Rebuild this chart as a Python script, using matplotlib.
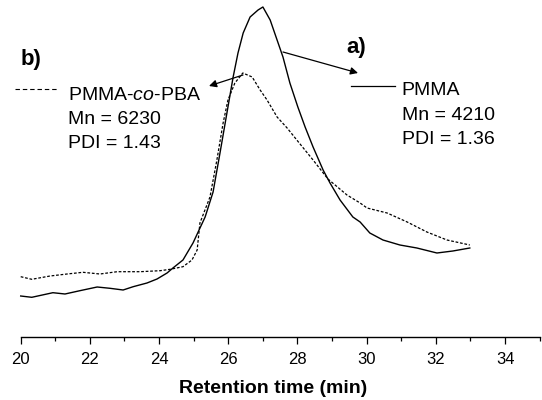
import matplotlib
matplotlib.use("Agg")
import matplotlib.pyplot as plt
from matplotlib.lines import Line2D
from matplotlib.ticker import MultipleLocator

plt.rcParams['font.family'] = ['Liberation Sans', 'DejaVu Sans']
plt.rcParams['mathtext.fontset'] = 'custom'
plt.rcParams['mathtext.rm'] = 'Liberation Sans'
plt.rcParams['mathtext.it'] = 'Liberation Sans:italic'

# ---- data (retention time in min, detector signal in arbitrary units) ----
pmma_t = [20.00, 20.32, 20.93, 21.28, 21.71, 22.21, 22.58, 22.96, 23.25, 23.65,
          23.94, 24.23, 24.40, 24.69, 24.98, 25.33, 25.56, 25.76, 25.90, 25.99,
          26.14, 26.28, 26.43, 26.63, 26.86, 27.00, 27.21, 27.41, 27.58, 27.78,
          28.01, 28.22, 28.45, 28.74, 28.94, 29.23, 29.60, 29.81, 30.09, 30.47,
          30.96, 31.45, 32.03, 32.49, 32.98]
pmma_y = [41, 39.7, 44.3, 43, 46.3, 50, 48.7, 47, 50.3, 54,
          58, 64, 69, 77, 94, 120, 145, 184, 212, 230,
          260, 284, 304, 320, 327, 330, 317, 297, 280, 254,
          230, 210, 190, 167, 154, 137, 120, 115, 104, 97,
          92, 89, 84, 86, 89]

copo_t = [20.00, 20.32, 20.85, 21.34, 21.80, 22.29, 22.79, 23.45, 24.03, 24.32,
          24.69, 24.95, 25.10, 25.18, 25.47, 25.67, 25.85, 25.99, 26.19, 26.42,
          26.69, 26.92, 27.12, 27.41, 27.70, 27.98, 28.45, 28.88, 29.43, 29.81,
          30.01, 30.59, 31.17, 31.74, 32.32, 32.98]
copo_y = [60.3, 57.7, 61, 63, 64.7, 63, 65.3, 65.3, 66.3, 67.7,
          70.3, 77, 87, 114, 140, 177, 214, 237, 254, 264,
          260, 247, 237, 220, 209, 197, 177, 158, 142, 134,
          129, 124, 115, 105, 97, 92]

major_ticks = [20, 22, 24, 26, 28, 30, 32, 34]
minor_ticks = [21, 23, 25, 27, 29, 31, 33, 35]

W, H = 542, 400
fig = plt.figure(figsize=(W / 100, H / 100), dpi=100)
ax = fig.add_axes([0, 1 - 337 / H, 1, 337 / H])

x0 = 20 - 20.7 / 34.6
x1 = 20 + (W - 20.7) / 34.6
ax.set_xlim(x0, x1)
ax.set_ylim(0, 337)

ax.plot(pmma_t, pmma_y, color='black', lw=1.0, solid_joinstyle='round')
ax.plot(copo_t, copo_y, color='black', lw=0.9, linestyle=(0, (2.2, 1.4)))

for s in ['left', 'right', 'top']:
    ax.spines[s].set_visible(False)
ax.spines['bottom'].set_bounds(20, 35)
ax.spines['bottom'].set_linewidth(1.0)
ax.yaxis.set_visible(False)
ax.set_xticks(major_ticks)
ax.set_xticklabels([str(v) for v in major_ticks])
ax.set_xticks(minor_ticks, minor=True)
ax.tick_params(axis='x', which='major', length=5, width=0.9, labelsize=12, pad=5.5)
ax.tick_params(axis='x', which='minor', length=3, width=0.9)

def fx(px):
    return px / W

def fy(py):
    return 1 - py / H

fig.text(fx(273.5), fy(393), 'Retention time (min)', ha='center', va='baseline',
         fontsize=14, fontweight='bold')

# annotations
fig.text(fx(21), fy(65), 'b)', ha='left', va='baseline', fontsize=16, fontweight='bold')
fig.text(fx(346), fy(53), 'a)', ha='left', va='baseline', fontsize=16, fontweight='bold')

fig.add_artist(Line2D([fx(15), fx(58)], [fy(89.3), fy(89.3)], color='black', lw=0.8,
                      linestyle=(0, (4, 2.6))))
fig.add_artist(Line2D([fx(351), fx(395)], [fy(86), fy(86)], color='black', lw=0.9))

fig.text(fx(68), fy(100), r'PMMA-$\mathit{co}$-PBA', ha='left', va='baseline', fontsize=14)
fig.text(fx(68), fy(124), 'Mn = 6230', ha='left', va='baseline', fontsize=14)
fig.text(fx(68), fy(148), 'PDI = 1.43', ha='left', va='baseline', fontsize=14)

fig.text(fx(401.7), fy(95), 'PMMA', ha='left', va='baseline', fontsize=14)
fig.text(fx(401.7), fy(120), 'Mn = 4210', ha='left', va='baseline', fontsize=14)
fig.text(fx(401.7), fy(144), 'PDI = 1.36', ha='left', va='baseline', fontsize=14)

arrow_kw = dict(arrowstyle='-|>', color='black', lw=0.9, mutation_scale=11,
                shrinkA=0, shrinkB=0)
fig.add_artist(plt.matplotlib.patches.FancyArrowPatch(
    (fx(283), fy(52)), (fx(358), fy(73)), transform=fig.transFigure, **arrow_kw))
fig.add_artist(plt.matplotlib.patches.FancyArrowPatch(
    (fx(243), fy(75)), (fx(209), fy(86)), transform=fig.transFigure, **arrow_kw))

fig.savefig('out.png', dpi=100)
